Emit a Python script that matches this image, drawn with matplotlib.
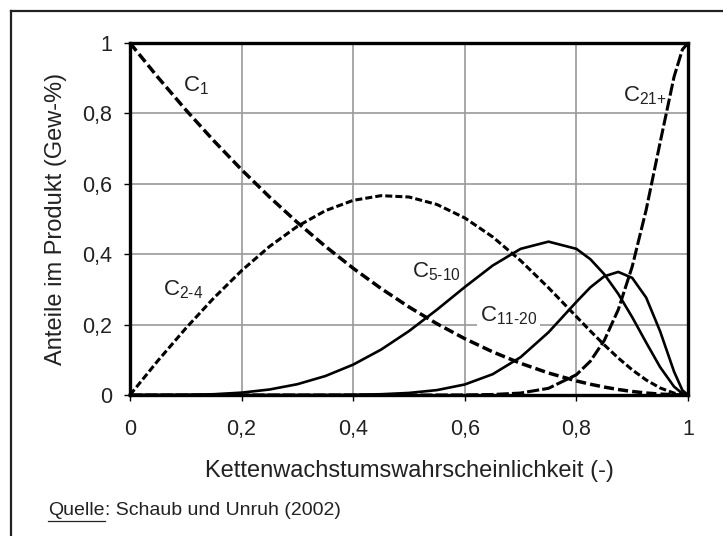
import matplotlib
matplotlib.use("Agg")
import matplotlib.pyplot as plt
from matplotlib.lines import Line2D

plt.rcParams['font.family'] = ['Liberation Sans', 'DejaVu Sans']
plt.rcParams['mathtext.fontset'] = 'custom'
plt.rcParams['mathtext.rm'] = 'Liberation Sans'
plt.rcParams['mathtext.it'] = 'Liberation Sans:italic'
plt.rcParams['mathtext.bf'] = 'Liberation Sans:bold'
plt.rcParams['mathtext.default'] = 'regular'

# Kettenwachstumswahrscheinlichkeit (alpha)
alpha = [0.0, 0.05, 0.1, 0.15, 0.2, 0.25, 0.3, 0.35, 0.4, 0.45, 0.5, 0.55, 0.6,
         0.65, 0.7, 0.75, 0.8, 0.825, 0.85, 0.875, 0.9, 0.925, 0.95, 0.975, 0.99, 1.0]

c1 = [1.0, 0.9025, 0.81, 0.7225, 0.64, 0.5625, 0.49, 0.4225, 0.36, 0.3025, 0.25,
      0.2025, 0.16, 0.1225, 0.09, 0.0625, 0.04, 0.0306, 0.0225, 0.0156, 0.01,
      0.0056, 0.0025, 0.0006, 0.0001, 0.0]
c2_4 = [0.0, 0.0975, 0.1895, 0.2753, 0.3533, 0.4219, 0.4792, 0.5235, 0.553,
        0.5663, 0.5625, 0.5413, 0.503, 0.4491, 0.3818, 0.3047, 0.2227, 0.1818,
        0.1423, 0.1051, 0.0715, 0.0427, 0.0201, 0.0053, 0.0009, 0.0]
c5_10 = [0.0, 0.0, 0.0005, 0.0022, 0.0067, 0.0156, 0.0307, 0.0538, 0.0863,
         0.129, 0.1816, 0.2423, 0.3067, 0.3678, 0.4152, 0.4357, 0.4152, 0.3858,
         0.343, 0.2873, 0.2211, 0.1491, 0.0793, 0.0237, 0.0042, 0.0]
c11_20 = [0.0, 0.0, 0.0, 0.0, 0.0, 0.0, 0.0001, 0.0002, 0.0007, 0.0022, 0.0059,
          0.0139, 0.0299, 0.0591, 0.1074, 0.1781, 0.2645, 0.3058, 0.3372, 0.3497,
          0.3327, 0.2768, 0.1811, 0.0664, 0.0133, 0.0]
c21 = [0.0, 0.0, 0.0, 0.0, 0.0, 0.0, 0.0, 0.0, 0.0, 0.0, 0.0, 0.0001, 0.0003,
       0.0015, 0.0056, 0.019, 0.0576, 0.096, 0.155, 0.2423, 0.3647, 0.5258,
       0.717, 0.904, 0.9815, 1.0]

ticks = [0, 0.2, 0.4, 0.6, 0.8, 1]
tick_labels = ['0', '0,2', '0,4', '0,6', '0,8', '1']

fig = plt.figure(figsize=(7.23, 5.36), dpi=100)
ax = fig.add_axes([130/723, 1-395/536, 558/723, 352/536])

ax.plot(alpha, c1, color='black', lw=2.5, ls=(0, (2.9, 1.2)), zorder=3, clip_on=False)
ax.plot(alpha, c2_4, color='black', lw=2.2, ls=(0, (2.3, 1.0)), zorder=3, clip_on=False)
ax.plot(alpha, c5_10, color='black', lw=1.9, zorder=3, clip_on=False)
ax.plot(alpha, c11_20, color='black', lw=1.9, zorder=3, clip_on=False)
ax.plot(alpha, c21, color='black', lw=2.2, ls=(0, (4.0, 1.0)), zorder=3, clip_on=False)

ax.set_xlim(0, 1)
ax.set_ylim(0, 1)
ax.set_xticks(ticks)
ax.set_xticklabels(tick_labels)
ax.set_yticks(ticks)
ax.set_yticklabels(tick_labels)
ax.set_axisbelow(True)
ax.grid(True, color='#9a9a9a', lw=1.2, zorder=0)
ax.tick_params(direction='out', length=4, width=1, colors='black', labelsize=15.5,
               labelcolor='#222222')
ax.tick_params(axis='x', pad=13)
ax.tick_params(axis='y', pad=9)
for s in ax.spines.values():
    s.set_linewidth(2.4)
    s.set_color('black')
    s.set_zorder(4)

ax.set_xlabel('Kettenwachstumswahrscheinlichkeit (-)', fontsize=17, color='#222222', labelpad=15)
ax.set_ylabel('Anteile im Produkt (Gew-%)', fontsize=17, color='#222222', labelpad=11)

lab_kw = dict(fontsize=16, color='#222222', zorder=2.5)
ax.text(0.095, 0.88, r'C$_{\text{1}}$', ha='left', va='center', **lab_kw)
ax.text(0.059, 0.30, r'C$_{\text{2-4}}$', ha='left', va='center', **lab_kw)
ax.text(0.505, 0.35, r'C$_{\text{5-10}}$', ha='left', va='center', **lab_kw)
ax.text(0.627, 0.225, r'C$_{\text{11-20}}$', ha='left', va='center',
        bbox=dict(facecolor='white', edgecolor='none', pad=2), **lab_kw)
ax.text(0.962, 0.85, r'C$_{\text{21+}}$', ha='right', va='center', **lab_kw)

# outer frame (left and top visible)
fig.add_artist(Line2D([11/723, 11/723], [0, 1-11/536], transform=fig.transFigure,
                      color='#222222', lw=1.6))
fig.add_artist(Line2D([11/723, 1], [1-11/536, 1-11/536], transform=fig.transFigure,
                      color='#222222', lw=1.6))

t1 = fig.text(48/723, 1-515/536, 'Quelle', fontsize=14, color='#222222', va='baseline')
fig.canvas.draw()
bb = t1.get_window_extent()
t2 = fig.text(bb.x1/723, 1-515/536, ': Schaub und Unruh (2002)', fontsize=14,
              color='#222222', va='baseline')
fig.add_artist(Line2D([bb.x0/723, bb.x1/723], [(bb.y0-2)/536, (bb.y0-2)/536],
                      transform=fig.transFigure, color='#222222', lw=0.9))

fig.savefig('out.png', dpi=100)
